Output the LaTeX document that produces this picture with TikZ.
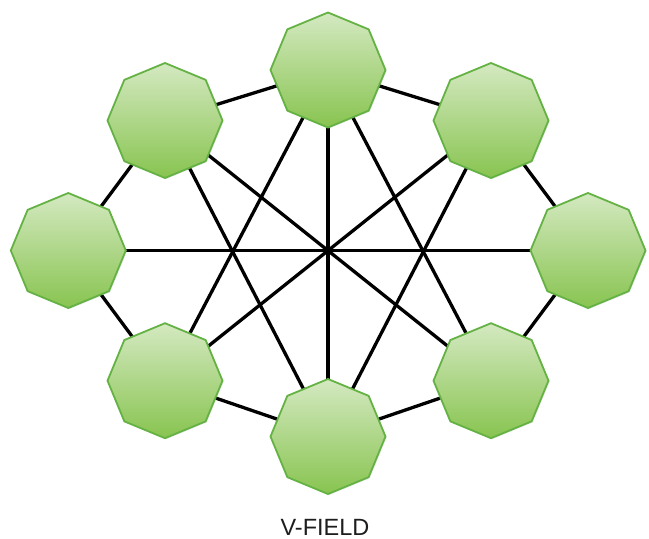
\documentclass[tikz,border=0pt]{standalone}
\usepackage{fontspec}
\setmainfont{Liberation Sans}
\usetikzlibrary{shapes.geometric,backgrounds,shadows}
\definecolor{octtop}{RGB}{212,233,193}
\definecolor{octbot}{RGB}{136,196,80}
\definecolor{octline}{RGB}{100,178,68}
\definecolor{txtcol}{RGB}{30,28,29}
\tikzset{
  octa/.style={regular polygon, regular polygon sides=8, shape border rotate=22.5,
    minimum size=115pt, inner sep=0pt, draw=octline, line width=1.8pt,
    top color=octtop, bottom color=octbot,
    drop shadow={opacity=0.15, shadow xshift=1.2pt, shadow yshift=-1.2pt}},
  link/.style={line width=3.3pt, black},
  caption/.style={font=\fontsize{23.5}{28}\selectfont, text=txtcol, inner sep=0pt}
}
\begin{document}
\begin{tikzpicture}[x=1pt,y=-1pt]
\useasboundingbox (0,0) rectangle (649,539);
\node[octa] (T)  at (328,70) {};
\node[octa] (TL) at (165,120.5) {};
\node[octa] (TR) at (491,120.5) {};
\node[octa] (L)  at (68.3,250.5) {};
\node[octa] (R)  at (588,250.5) {};
\node[octa] (BL) at (165,380.7) {};
\node[octa] (BR) at (491,380.7) {};
\node[octa] (B)  at (328,436.5) {};
\begin{scope}[on background layer]
  % outer ring
  \draw[link] (T.center) -- (TL.center);
  \draw[link] (T.center) -- (TR.center);
  \draw[link] (TL.center) -- (L.center);
  \draw[link] (TR.center) -- (R.center);
  \draw[link] (L.center) -- (BL.center);
  \draw[link] (R.center) -- (BR.center);
  \draw[link] (BL.center) -- (B.center);
  \draw[link] (BR.center) -- (B.center);
  % diameters
  \draw[link] (T.center) -- (B.center);
  \draw[link] (L.center) -- (R.center);
  \draw[link] (TL.center) -- (BR.center);
  \draw[link] (TR.center) -- (BL.center);
  % chords
  \draw[link] (TL.center) -- (B.center);
  \draw[link] (TR.center) -- (B.center);
  \draw[link] (T.center) -- (BL.center);
  \draw[link] (T.center) -- (BR.center);
\end{scope}
\node[caption] (cap) at (325,527) {V-FIELD};
\end{tikzpicture}
\end{document}
